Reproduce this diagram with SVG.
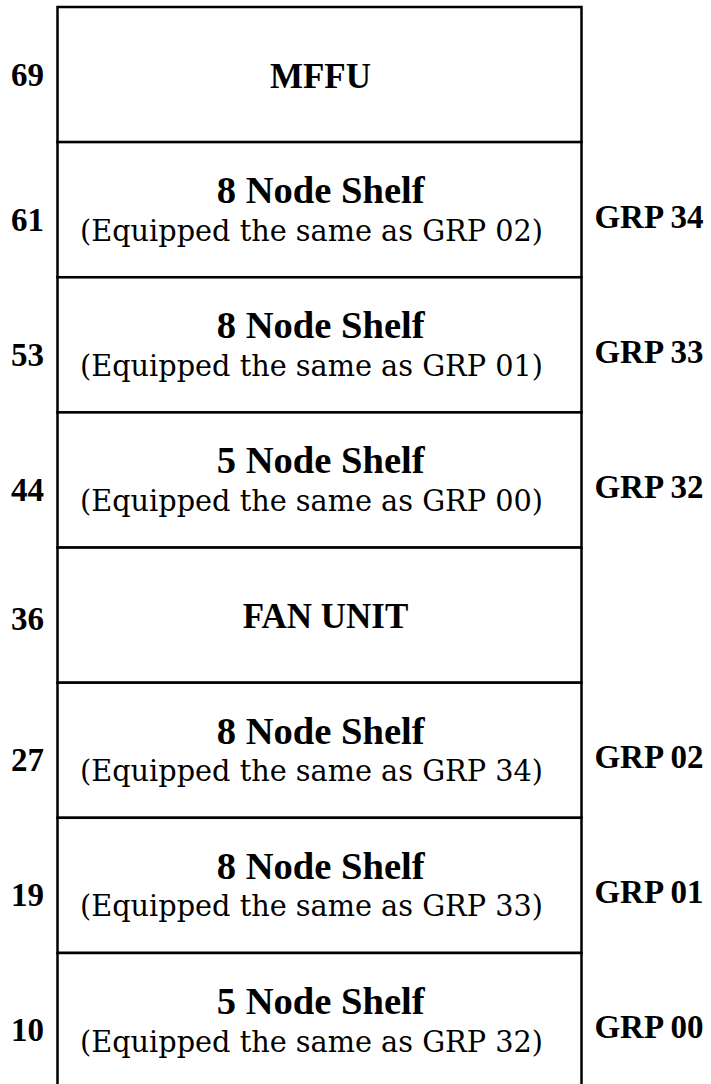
<svg xmlns="http://www.w3.org/2000/svg" width="711" height="1084" viewBox="0 0 711 1084">
  <style>
    .slot { fill: #ffffff; stroke: #000000; stroke-width: 2.5; }
    .title { font-family: "Liberation Serif", "Times New Roman", serif; font-weight: bold; font-size: 37px; fill: #000; }
    .unit { font-family: "Liberation Serif", "Times New Roman", serif; font-weight: bold; font-size: 35px; fill: #000; text-anchor: middle; }
    .note { font-family: "DejaVu Serif", "Liberation Serif", serif; font-size: 29px; fill: #000; }
    .pos { font-family: "Liberation Serif", "Times New Roman", serif; font-weight: bold; font-size: 33px; fill: #000; text-anchor: middle; }
    .grp { font-family: "Liberation Serif", "Times New Roman", serif; font-weight: bold; font-size: 33px; fill: #000; text-anchor: middle; }
  </style>
  <rect x="0" y="0" width="711" height="1084" fill="#ffffff"/>

  <!-- rack slots, top to bottom; each slot is 135.14 units tall -->
  <g id="slot-69">
    <rect class="slot" x="57.5" y="7" width="524" height="135.1"/>
    <text class="unit" x="320.5" y="88">MFFU</text>
    <text class="pos" x="27.5" y="86">69</text>
  </g>

  <g id="slot-61">
    <rect class="slot" x="57.5" y="142.1" width="524" height="135.1"/>
    <text class="title" x="216.7" y="203.1" textLength="208" lengthAdjust="spacingAndGlyphs">8 Node Shelf</text>
    <text class="note" x="80" y="240.6" textLength="463" lengthAdjust="spacingAndGlyphs">(Equipped the same as GRP 02)</text>
    <text class="pos" x="27.5" y="231">61</text>
    <text class="grp" x="649" y="228">GRP 34</text>
  </g>

  <g id="slot-53">
    <rect class="slot" x="57.5" y="277.3" width="524" height="135.1"/>
    <text class="title" x="216.7" y="338.3" textLength="208" lengthAdjust="spacingAndGlyphs">8 Node Shelf</text>
    <text class="note" x="80" y="375.8" textLength="463" lengthAdjust="spacingAndGlyphs">(Equipped the same as GRP 01)</text>
    <text class="pos" x="27.5" y="366">53</text>
    <text class="grp" x="649" y="363">GRP 33</text>
  </g>

  <g id="slot-44">
    <rect class="slot" x="57.5" y="412.4" width="524" height="135.1"/>
    <text class="title" x="216.7" y="473.4" textLength="208" lengthAdjust="spacingAndGlyphs">5 Node Shelf</text>
    <text class="note" x="80" y="510.9" textLength="463" lengthAdjust="spacingAndGlyphs">(Equipped the same as GRP 00)</text>
    <text class="pos" x="27.5" y="501">44</text>
    <text class="grp" x="649" y="498">GRP 32</text>
  </g>

  <g id="slot-36">
    <rect class="slot" x="57.5" y="547.6" width="524" height="135.1"/>
    <text class="unit" x="325.5" y="628">FAN UNIT</text>
    <text class="pos" x="27.5" y="630">36</text>
  </g>

  <g id="slot-27">
    <rect class="slot" x="57.5" y="682.7" width="524" height="135.1"/>
    <text class="title" x="216.7" y="743.7" textLength="208" lengthAdjust="spacingAndGlyphs">8 Node Shelf</text>
    <text class="note" x="80" y="781.2" textLength="463" lengthAdjust="spacingAndGlyphs">(Equipped the same as GRP 34)</text>
    <text class="pos" x="27.5" y="771">27</text>
    <text class="grp" x="649" y="768">GRP 02</text>
  </g>

  <g id="slot-19">
    <rect class="slot" x="57.5" y="817.8" width="524" height="135.1"/>
    <text class="title" x="216.7" y="878.8" textLength="208" lengthAdjust="spacingAndGlyphs">8 Node Shelf</text>
    <text class="note" x="80" y="916.3" textLength="463" lengthAdjust="spacingAndGlyphs">(Equipped the same as GRP 33)</text>
    <text class="pos" x="27.5" y="906">19</text>
    <text class="grp" x="649" y="903">GRP 01</text>
  </g>

  <g id="slot-10">
    <rect class="slot" x="57.5" y="953" width="524" height="140"/>
    <text class="title" x="216.7" y="1014" textLength="208" lengthAdjust="spacingAndGlyphs">5 Node Shelf</text>
    <text class="note" x="80" y="1051.5" textLength="463" lengthAdjust="spacingAndGlyphs">(Equipped the same as GRP 32)</text>
    <text class="pos" x="27.5" y="1041">10</text>
    <text class="grp" x="649" y="1038">GRP 00</text>
  </g>

  <!-- no connectors in this rack elevation -->
  <g id="connectors"/>
</svg>
